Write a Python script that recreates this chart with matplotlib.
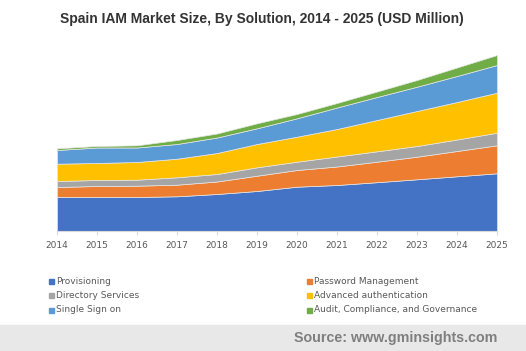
import matplotlib.pyplot as plt
from matplotlib.patches import Rectangle

years = [2014, 2015, 2016, 2017, 2018, 2019, 2020, 2021, 2022, 2023, 2024, 2025]
provisioning = [34, 34, 34, 34.7, 37, 40, 44.3, 46, 48.8, 51.7, 54.7, 57.7]
password_mgmt = [10, 11, 11.3, 11.6, 12.5, 15.3, 16.7, 18.5, 20.5, 22.6, 25.3, 28]
directory = [6, 6, 6, 7.4, 7.5, 8.4, 8.3, 10, 10.4, 10.7, 11.5, 12.6]
advanced_auth = [17.3, 17, 17.7, 18.6, 21, 23.3, 25, 27.5, 31.3, 35, 37.5, 40]
single_sign_on = [13.7, 15.5, 14.5, 14.7, 15.5, 15.7, 18.4, 21.5, 23, 24.3, 26, 27.7]
audit = [1.7, 1.5, 2.2, 4, 4, 5, 4.3, 4.5, 5.5, 6.7, 8.5, 10]

labels = ['Provisioning', 'Password Management', 'Directory Services',
          'Advanced authentication', 'Single Sign on',
          'Audit, Compliance, and Governance']
colors = ['#4472C4', '#ED7D31', '#A5A5A5', '#FFC000', '#5B9BD5', '#70AD47']

fig = plt.figure(figsize=(5.26, 3.51), dpi=100)
ax = fig.add_axes([57 / 526, 120 / 351, 440 / 526, 200 / 351])

ax.stackplot(years, provisioning, password_mgmt, directory, advanced_auth,
             single_sign_on, audit, colors=colors, edgecolor='#e6e6e6', linewidth=0.5)
ax.set_xlim(2014, 2025)
ax.set_ylim(0, 200)
ax.set_xticks(years)
ax.set_xticklabels([str(y) for y in years], fontsize=6.5, color='#595959')
ax.set_yticks([])
for s in ['top', 'right', 'left']:
    ax.spines[s].set_visible(False)
ax.spines['bottom'].set_color('#d9d9d9')
ax.tick_params(axis='x', length=3, color='#d9d9d9', pad=4)

fig.text(262 / 526, 1 - 19 / 351, 'Spain IAM Market Size, By Solution, 2014 - 2025 (USD Million)',
         ha='center', va='center', fontsize=10, fontweight='bold', color='#333333',
         family='Liberation Sans')

# legend, two columns
col_x = [49, 307]
row_y = [281.7, 295.7, 310]
for i, (lab, col) in enumerate(zip(labels, colors)):
    cx = col_x[i % 2]
    cy = row_y[i // 2]
    fig.patches.append(Rectangle((cx / 526, 1 - (cy + 2.5) / 351), 5 / 526, 5 / 351,
                                 transform=fig.transFigure, color=col, figure=fig))
    fig.text((cx + 7) / 526, 1 - cy / 351, lab, ha='left', va='center',
             fontsize=6.5, color='#595959')

# source band
fig.patches.append(Rectangle((0, 0), 1, 26 / 351, transform=fig.transFigure,
                             color='#e8e8e8', figure=fig, zorder=0))
fig.text(497 / 526, 1 - 338 / 351, 'Source: www.gminsights.com', ha='right', va='center',
         fontsize=10.3, fontweight='bold', color='#7f7f7f', family='Liberation Sans')

fig.savefig('out.png', dpi=100)
